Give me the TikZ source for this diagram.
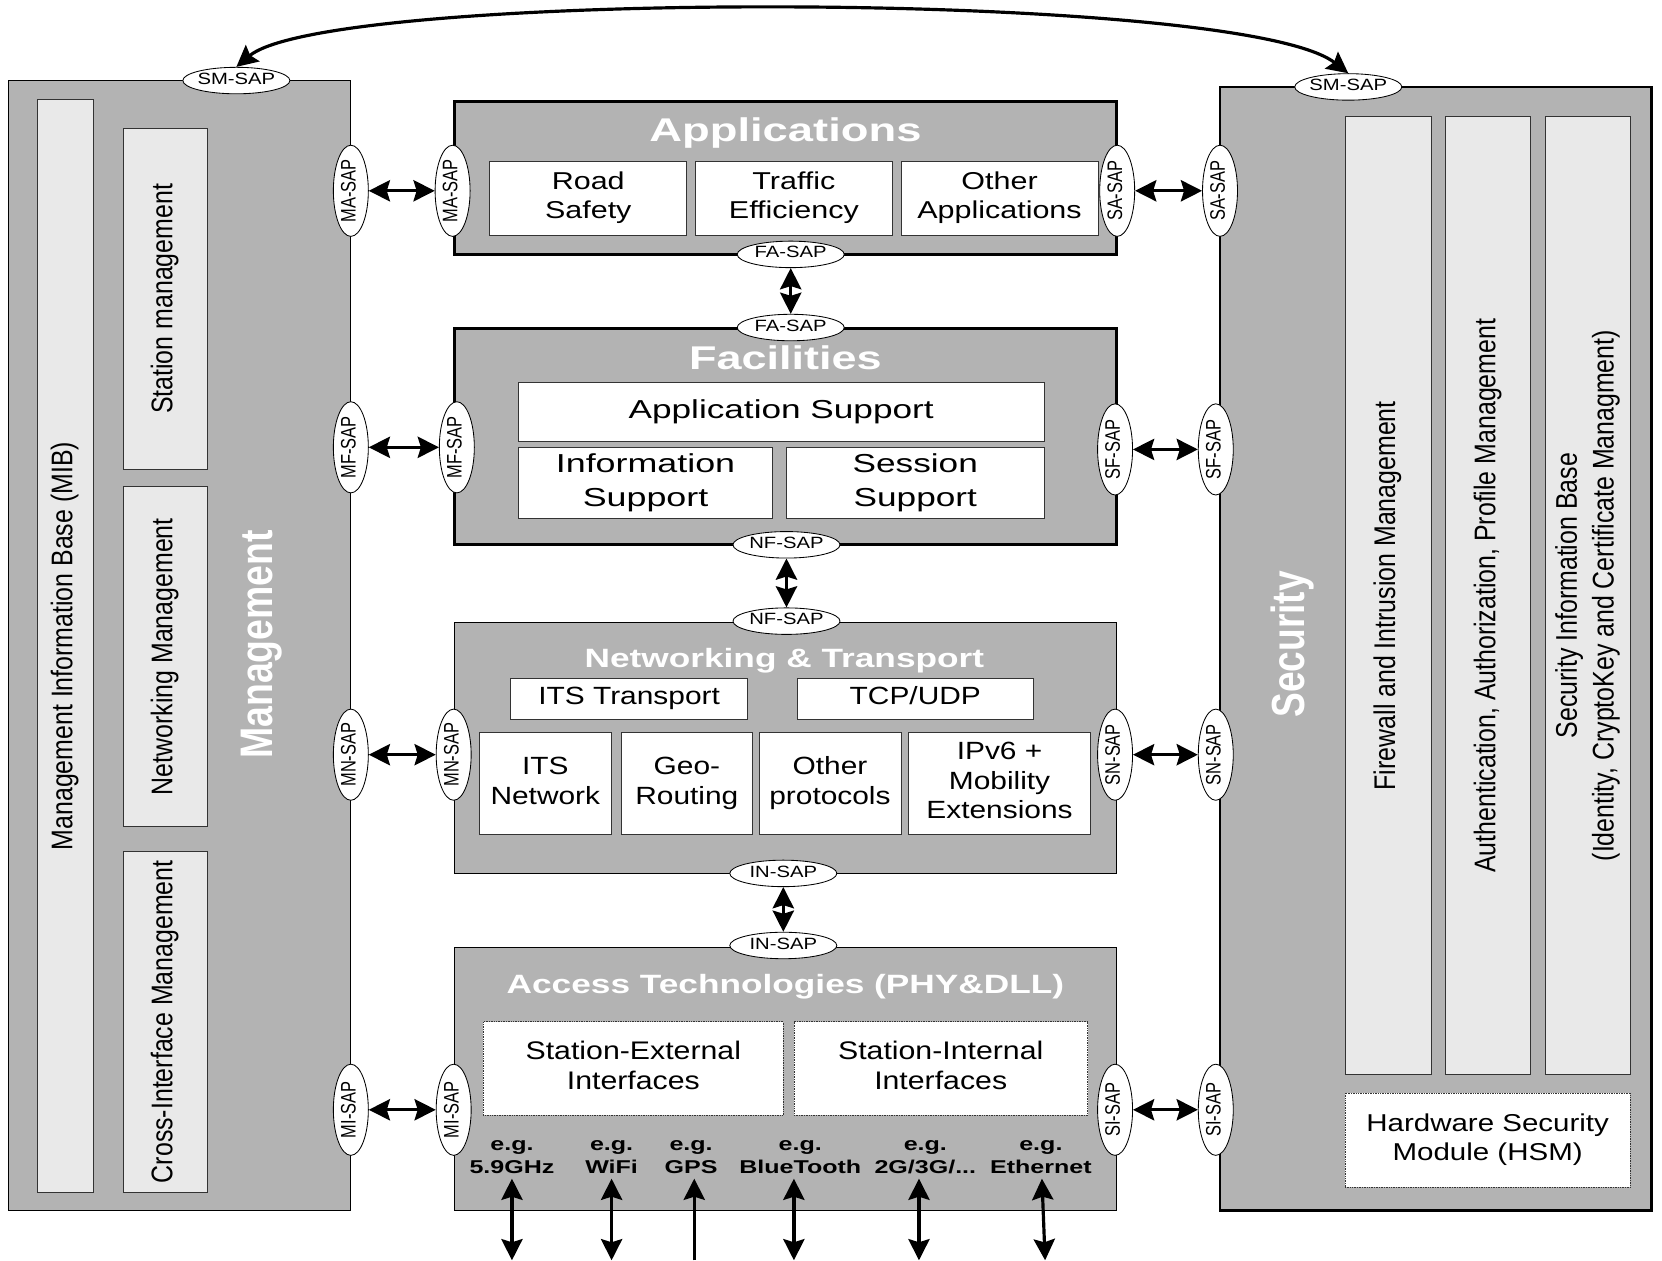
\documentclass[tikz,border=0pt]{standalone}
\usepackage{fontspec}
\setmainfont{Liberation Sans}
\usepackage{graphicx}
\usetikzlibrary{shapes.geometric, arrows.meta, fit}
\definecolor{boxgray}{HTML}{B3B3B3}
\definecolor{barlight}{HTML}{E9E9E9}
\definecolor{edgegray}{HTML}{333333}
\newcommand{\htx}[5]{\scalebox{#1}[1]{\fontsize{#2}{#3}\selectfont#4\begin{tabular}{@{}c@{}}#5\end{tabular}}}
\newcommand{\vtx}[5]{\scalebox{#1}[1]{\rotatebox{90}{\fontsize{#2}{#3}\selectfont#4\begin{tabular}{@{}c@{}}#5\end{tabular}}}}
\newcommand{\saph}[1]{\makebox[40pt]{\htx{1.24}{15.4}{17}{}{#1}}}
\newcommand{\sapv}[1]{\vtx{1.28}{15.5}{18}{}{#1}}
\begin{document}
\begin{tikzpicture}[x=1pt,y=-1pt,
  layer/.style={draw=black, fill=boxgray, inner sep=0pt},
  thinlayer/.style={layer, line width=1.2pt},
  thicklayer/.style={layer, line width=2.6pt},
  innerbox/.style={draw=edgegray, fill=white, line width=0.8pt, inner sep=0pt},
  dotbox/.style={draw=edgegray, densely dotted, fill=white, line width=0.6pt, inner sep=0pt},
  barbox/.style={draw=edgegray, fill=barlight, line width=0.8pt, inner sep=0pt},
  txt/.style={inner sep=0pt},
  sapH/.style={ellipse, draw=black, fill=white, line width=0.8pt, minimum width=101pt, minimum height=25pt, inner sep=0pt},
  sapV/.style={ellipse, draw=black, fill=white, line width=0.8pt, minimum width=33pt, minimum height=86pt, inner sep=0pt},
  dbl/.style={line width=3pt, {Stealth[length=20pt,width=20pt,inset=3pt]}-{Stealth[length=20pt,width=20pt,inset=3pt]}},
  sgl/.style={line width=3pt, -{Stealth[length=20pt,width=20pt,inset=3pt]}},
]
\useasboundingbox (0,0) rectangle (1568,1189);

% ---------- Management ----------
\node[thinlayer, fit={(8,76) (331,1142)}] (mgmt) {};
\node[barbox, fit={(35,94) (88,1125)}] (mib) {};
\node[barbox, fit={(116,121) (196,443)}] (stm) {};
\node[barbox, fit={(116,459) (196,780)}] (ntm) {};
\node[barbox, fit={(116,803) (196,1125)}] (xim) {};
\node[txt] (mibT) at (mib.center) {\vtx{1.2}{23.5}{28}{}{Management Information Base (MIB)}};
\node[txt] (stmT) at (stm.center) {\vtx{1.2}{23.5}{28}{}{Station management}};
\node[txt] (ntmT) at (ntm.center) {\vtx{1.2}{23.5}{28}{}{Networking Management}};
\node[txt] (ximT) at (xim.center) {\vtx{1.2}{23.5}{28}{}{Cross-Interface Management}};
\node[txt] (mgmtT) at (247,608) {\vtx{1.22}{35.3}{42}{\bfseries\color{white}}{Management}};

% ---------- Security ----------
\node[thicklayer, fit={(1151,82) (1558,1142)}] (sec) {};
\node[barbox, fit={(1269,110) (1350,1014)}] (fw) {};
\node[barbox, fit={(1364,110) (1444,1014)}] (aaa) {};
\node[barbox, fit={(1458,110) (1538,1014)}] (sib) {};
\node[dotbox, fit={(1269,1031) (1538,1120)}] (hsm) {};
\node[txt] (fwT) at (fw.center) {\vtx{1.2}{23.5}{28}{}{Firewall and Intrusion Management}};
\node[txt] (aaaT) at (aaa.center) {\vtx{1.2}{23.5}{28}{}{Authentication, Authorization, Profile Management}};
\node[txt] (sibT) at (sib.center) {\vtx{1.2}{23.5}{29}{}{Security Information Base\\(Identity, CryptoKey and Certificate Managment)}};
\node[txt] (hsmT) at (hsm.center) {\htx{1.21}{23}{28}{}{Hardware Security\\Module (HSM)}};
\node[txt] (secT) at (1220,608) {\vtx{1.25}{35}{42}{\bfseries\color{white}}{Security}};

% ---------- Applications ----------
\node[thicklayer, fit={(429,96) (1053,240)}] (apps) {};
\node[txt] (appsT) at (741,126) {\htx{1.38}{31}{36}{\bfseries\color{white}}{Applications}};
\node[innerbox, fit={(462,152) (648,222)}] (road) {};
\node[innerbox, fit={(656,152) (842,222)}] (traf) {};
\node[innerbox, fit={(850,152) (1036,222)}] (oapp) {};
\node[txt] (roadT) at (road.center) {\htx{1.25}{23}{28}{}{Road\\Safety}};
\node[txt] (trafT) at (traf.center) {\htx{1.25}{23}{28}{}{Traffic\\Efficiency}};
\node[txt] (oappT) at (oapp.center) {\htx{1.25}{23}{28}{}{Other\\Applications}};

% ---------- Facilities ----------
\node[thicklayer, fit={(429,310) (1053,514)}] (fac) {};
\node[txt] (facT) at (741,341) {\htx{1.37}{31}{36}{\bfseries\color{white}}{Facilities}};
\node[innerbox, fit={(489,361) (985,416)}] (asup) {};
\node[innerbox, fit={(489,422) (729,489)}] (isup) {};
\node[innerbox, fit={(742,422) (985,489)}] (ssup) {};
\node[txt] (asupT) at (asup.center) {\htx{1.355}{24.5}{32}{}{Application Support}};
\node[txt] (isupT) at (isup.center) {\htx{1.38}{24.5}{32}{}{Information\\Support}};
\node[txt] (ssupT) at (ssup.center) {\htx{1.355}{24.5}{32}{}{Session\\Support}};

% ---------- Networking & Transport ----------
\node[thinlayer, fit={(429,587) (1053,824)}] (net) {};
\node[txt] (netT) at (740,624) {\htx{1.33}{25}{30}{\bfseries\color{white}}{Networking \& Transport}};
\node[innerbox, fit={(482,640) (705,679)}] (itst) {};
\node[innerbox, fit={(752,640) (975,679)}] (tcp) {};
\node[innerbox, fit={(452,691) (577,787)}] (itsn) {};
\node[innerbox, fit={(586,691) (710,787)}] (geo) {};
\node[innerbox, fit={(716,691) (850,787)}] (oprot) {};
\node[innerbox, fit={(857,691) (1029,787)}] (ipv) {};
\node[txt] (itstT) at (itst.center) {\htx{1.2}{23.5}{28}{}{ITS Transport}};
\node[txt] (tcpT) at (tcp.center) {\htx{1.2}{23.5}{28}{}{TCP/UDP}};
\node[txt] (itsnT) at (itsn.center) {\htx{1.2}{23.5}{28}{}{ITS\\Network}};
\node[txt] (geoT) at (geo.center) {\htx{1.2}{23.5}{28}{}{Geo-\\Routing}};
\node[txt] (oprotT) at (oprot.center) {\htx{1.2}{23.5}{28}{}{Other\\protocols}};
\node[txt] (ipvT) at (ipv.center) {\htx{1.2}{23.5}{28}{}{IPv6 +\\Mobility\\Extensions}};

% ---------- Access Technologies ----------
\node[thinlayer, fit={(429,894) (1053,1142)}] (acc) {};
\node[txt] (accT) at (741,931) {\htx{1.33}{25}{30}{\bfseries\color{white}}{Access Technologies (PHY\&DLL)}};
\node[dotbox, fit={(456,964) (739,1052)}] (sext) {};
\node[dotbox, fit={(749,964) (1026,1052)}] (sint) {};
\node[txt] (sextT) at (sext.center) {\htx{1.19}{24}{28}{}{Station-External\\Interfaces}};
\node[txt] (sintT) at (sint.center) {\htx{1.19}{24}{28}{}{Station-Internal\\Interfaces}};
\node[txt] (eg1) at (483,1092) {\htx{1.35}{17.5}{22}{\bfseries}{e.g.\\5.9GHz}};
\node[txt] (eg2) at (577,1092) {\htx{1.35}{17.5}{22}{\bfseries}{e.g.\\WiFi}};
\node[txt] (eg3) at (652,1092) {\htx{1.35}{17.5}{22}{\bfseries}{e.g.\\GPS}};
\node[txt] (eg4) at (755,1092) {\htx{1.35}{17.5}{22}{\bfseries}{e.g.\\BlueTooth}};
\node[txt] (eg5) at (873,1092) {\htx{1.35}{17.5}{22}{\bfseries}{e.g.\\2G/3G/...}};
\node[txt] (eg6) at (982,1092) {\htx{1.35}{17.5}{22}{\bfseries}{e.g.\\Ethernet}};

% ---------- SAP ellipses ----------
\node[sapH] (smL) at (223,76) {\saph{SM-SAP}};
\node[sapH] (smR) at (1272,82) {\saph{SM-SAP}};
\node[sapV] (maL) at (331,180) {\sapv{MA-SAP}};
\node[sapV] (maR) at (427,180) {\sapv{MA-SAP}};
\node[sapV] (saL) at (1054,180) {\sapv{SA-SAP}};
\node[sapV] (saR) at (1151,180) {\sapv{SA-SAP}};
\node[sapH] (faT) at (746,240) {\saph{FA-SAP}};
\node[sapH] (faB) at (746,309) {\saph{FA-SAP}};
\node[sapV] (mfL) at (331,422) {\sapv{MF-SAP}};
\node[sapV] (mfR) at (431,422) {\sapv{MF-SAP}};
\node[sapV] (sfL) at (1052,424) {\sapv{SF-SAP}};
\node[sapV] (sfR) at (1147,424) {\sapv{SF-SAP}};
\node[sapH] (nfT) at (742,514) {\saph{NF-SAP}};
\node[sapH] (nfB) at (742,586) {\saph{NF-SAP}};
\node[sapV] (mnL) at (331,712) {\sapv{MN-SAP}};
\node[sapV] (mnR) at (428,712) {\sapv{MN-SAP}};
\node[sapV] (snL) at (1052,712) {\sapv{SN-SAP}};
\node[sapV] (snR) at (1147,712) {\sapv{SN-SAP}};
\node[sapH] (inT) at (739,824) {\saph{IN-SAP}};
\node[sapH] (inB) at (739,892) {\saph{IN-SAP}};
\node[sapV] (miL) at (331,1047) {\sapv{MI-SAP}};
\node[sapV] (miR) at (428,1047) {\sapv{MI-SAP}};
\node[sapV] (siL) at (1052,1047) {\sapv{SI-SAP}};
\node[sapV] (siR) at (1147,1047) {\sapv{SI-SAP}};

% ---------- connectors ----------
\draw[dbl] (maL.east) -- (maR.west);
\draw[dbl] (saL.east) -- (saR.west);
\draw[dbl] (mfL.east) -- (mfR.west);
\draw[dbl] (sfL.east) -- (sfR.west);
\draw[dbl] (mnL.east) -- (mnR.west);
\draw[dbl] (snL.east) -- (snR.west);
\draw[dbl] (miL.east) -- (miR.west);
\draw[dbl] (siL.east) -- (siR.west);
\draw[dbl] (faT.south) -- (faB.north);
\draw[dbl] (nfT.south) -- (nfB.north);
\draw[dbl] (inT.south) -- (inB.north);
\draw[dbl] (smL.north) .. controls (310,-10) and (1170,-10) .. (smR.north);

% ---------- external links ----------
\coordinate (b1t) at (483,1112); \coordinate (b1b) at (483,1189);
\coordinate (b2t) at (577,1112); \coordinate (b2b) at (577,1189);
\coordinate (b3t) at (655,1112); \coordinate (b3b) at (655,1189);
\coordinate (b4t) at (749,1112); \coordinate (b4b) at (749,1189);
\coordinate (b5t) at (867,1112); \coordinate (b5b) at (867,1189);
\coordinate (b6t) at (983,1112); \coordinate (b6b) at (986,1189);
\draw[dbl] (b1t) -- (b1b);
\draw[dbl] (b2t) -- (b2b);
\draw[sgl] (b3b) -- (b3t);
\draw[dbl] (b4t) -- (b4b);
\draw[dbl] (b5t) -- (b5b);
\draw[dbl] (b6t) -- (b6b);
\end{tikzpicture}
\end{document}
